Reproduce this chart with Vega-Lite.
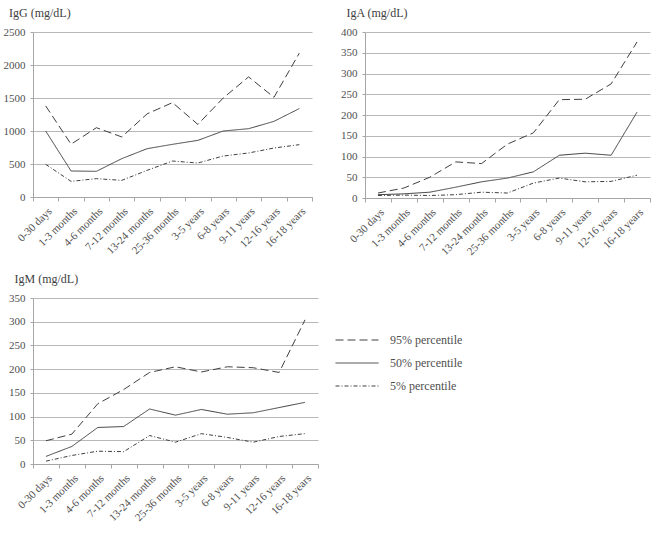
{
"$schema": "https://vega.github.io/schema/vega-lite/v6.json",
"background": "white",
"padding": {"left": 3, "top": 7, "right": 5, "bottom": 5},
"config": {
  "font": "Liberation Serif, Times New Roman, serif",
  "view": {"stroke": null},
  "axis": {"labelFont": "Liberation Serif, Times New Roman, serif", "labelFontSize": 11, "labelColor": "#505050", "domainColor": "#a6a6a6", "tickColor": "#a6a6a6", "gridColor": "#b8b8b8", "titleFontSize": 11},
  "title": {"font": "Liberation Serif, Times New Roman, serif", "fontSize": 12, "fontWeight": "normal", "color": "#404040", "anchor": "start", "dx": 6, "offset": 6},
  "line": {"strokeWidth": 1, "color": "#404040"},
  "legend": {"labelFont": "Liberation Serif, Times New Roman, serif", "labelFontSize": 12, "labelColor": "#505050"}
},
"datasets": {
  "d": [
    {"ig": "IgG", "pct": "95% percentile", "i": 0, "age": "0-30 days", "v": 1380},
    {"ig": "IgG", "pct": "95% percentile", "i": 1, "age": "1-3 months", "v": 800},
    {"ig": "IgG", "pct": "95% percentile", "i": 2, "age": "4-6 months", "v": 1050},
    {"ig": "IgG", "pct": "95% percentile", "i": 3, "age": "7-12 months", "v": 910},
    {"ig": "IgG", "pct": "95% percentile", "i": 4, "age": "13-24 months", "v": 1260},
    {"ig": "IgG", "pct": "95% percentile", "i": 5, "age": "25-36 months", "v": 1430},
    {"ig": "IgG", "pct": "95% percentile", "i": 6, "age": "3-5 years", "v": 1100},
    {"ig": "IgG", "pct": "95% percentile", "i": 7, "age": "6-8 years", "v": 1500},
    {"ig": "IgG", "pct": "95% percentile", "i": 8, "age": "9-11 years", "v": 1820},
    {"ig": "IgG", "pct": "95% percentile", "i": 9, "age": "12-16 years", "v": 1510},
    {"ig": "IgG", "pct": "95% percentile", "i": 10, "age": "16-18 years", "v": 2180},
    {"ig": "IgG", "pct": "50% percentile", "i": 0, "age": "0-30 days", "v": 1000},
    {"ig": "IgG", "pct": "50% percentile", "i": 1, "age": "1-3 months", "v": 394},
    {"ig": "IgG", "pct": "50% percentile", "i": 2, "age": "4-6 months", "v": 389},
    {"ig": "IgG", "pct": "50% percentile", "i": 3, "age": "7-12 months", "v": 581},
    {"ig": "IgG", "pct": "50% percentile", "i": 4, "age": "13-24 months", "v": 732},
    {"ig": "IgG", "pct": "50% percentile", "i": 5, "age": "25-36 months", "v": 798},
    {"ig": "IgG", "pct": "50% percentile", "i": 6, "age": "3-5 years", "v": 858},
    {"ig": "IgG", "pct": "50% percentile", "i": 7, "age": "6-8 years", "v": 1000},
    {"ig": "IgG", "pct": "50% percentile", "i": 8, "age": "9-11 years", "v": 1035},
    {"ig": "IgG", "pct": "50% percentile", "i": 9, "age": "12-16 years", "v": 1146},
    {"ig": "IgG", "pct": "50% percentile", "i": 10, "age": "16-18 years", "v": 1340},
    {"ig": "IgG", "pct": "5% percentile", "i": 0, "age": "0-30 days", "v": 495},
    {"ig": "IgG", "pct": "5% percentile", "i": 1, "age": "1-3 months", "v": 237},
    {"ig": "IgG", "pct": "5% percentile", "i": 2, "age": "4-6 months", "v": 278},
    {"ig": "IgG", "pct": "5% percentile", "i": 3, "age": "7-12 months", "v": 252},
    {"ig": "IgG", "pct": "5% percentile", "i": 4, "age": "13-24 months", "v": 404},
    {"ig": "IgG", "pct": "5% percentile", "i": 5, "age": "25-36 months", "v": 545},
    {"ig": "IgG", "pct": "5% percentile", "i": 6, "age": "3-5 years", "v": 515},
    {"ig": "IgG", "pct": "5% percentile", "i": 7, "age": "6-8 years", "v": 621},
    {"ig": "IgG", "pct": "5% percentile", "i": 8, "age": "9-11 years", "v": 667},
    {"ig": "IgG", "pct": "5% percentile", "i": 9, "age": "12-16 years", "v": 742},
    {"ig": "IgG", "pct": "5% percentile", "i": 10, "age": "16-18 years", "v": 793},
    {"ig": "IgA", "pct": "95% percentile", "i": 0, "age": "0-30 days", "v": 12},
    {"ig": "IgA", "pct": "95% percentile", "i": 1, "age": "1-3 months", "v": 24},
    {"ig": "IgA", "pct": "95% percentile", "i": 2, "age": "4-6 months", "v": 50},
    {"ig": "IgA", "pct": "95% percentile", "i": 3, "age": "7-12 months", "v": 87},
    {"ig": "IgA", "pct": "95% percentile", "i": 4, "age": "13-24 months", "v": 83},
    {"ig": "IgA", "pct": "95% percentile", "i": 5, "age": "25-36 months", "v": 130},
    {"ig": "IgA", "pct": "95% percentile", "i": 6, "age": "3-5 years", "v": 157},
    {"ig": "IgA", "pct": "95% percentile", "i": 7, "age": "6-8 years", "v": 237},
    {"ig": "IgA", "pct": "95% percentile", "i": 8, "age": "9-11 years", "v": 238},
    {"ig": "IgA", "pct": "95% percentile", "i": 9, "age": "12-16 years", "v": 275},
    {"ig": "IgA", "pct": "95% percentile", "i": 10, "age": "16-18 years", "v": 376},
    {"ig": "IgA", "pct": "50% percentile", "i": 0, "age": "0-30 days", "v": 8},
    {"ig": "IgA", "pct": "50% percentile", "i": 1, "age": "1-3 months", "v": 10},
    {"ig": "IgA", "pct": "50% percentile", "i": 2, "age": "4-6 months", "v": 14},
    {"ig": "IgA", "pct": "50% percentile", "i": 3, "age": "7-12 months", "v": 26},
    {"ig": "IgA", "pct": "50% percentile", "i": 4, "age": "13-24 months", "v": 39},
    {"ig": "IgA", "pct": "50% percentile", "i": 5, "age": "25-36 months", "v": 48},
    {"ig": "IgA", "pct": "50% percentile", "i": 6, "age": "3-5 years", "v": 63},
    {"ig": "IgA", "pct": "50% percentile", "i": 7, "age": "6-8 years", "v": 103},
    {"ig": "IgA", "pct": "50% percentile", "i": 8, "age": "9-11 years", "v": 108},
    {"ig": "IgA", "pct": "50% percentile", "i": 9, "age": "12-16 years", "v": 103},
    {"ig": "IgA", "pct": "50% percentile", "i": 10, "age": "16-18 years", "v": 207},
    {"ig": "IgA", "pct": "5% percentile", "i": 0, "age": "0-30 days", "v": 6},
    {"ig": "IgA", "pct": "5% percentile", "i": 1, "age": "1-3 months", "v": 7},
    {"ig": "IgA", "pct": "5% percentile", "i": 2, "age": "4-6 months", "v": 6},
    {"ig": "IgA", "pct": "5% percentile", "i": 3, "age": "7-12 months", "v": 8},
    {"ig": "IgA", "pct": "5% percentile", "i": 4, "age": "13-24 months", "v": 14},
    {"ig": "IgA", "pct": "5% percentile", "i": 5, "age": "25-36 months", "v": 12},
    {"ig": "IgA", "pct": "5% percentile", "i": 6, "age": "3-5 years", "v": 36},
    {"ig": "IgA", "pct": "5% percentile", "i": 7, "age": "6-8 years", "v": 48},
    {"ig": "IgA", "pct": "5% percentile", "i": 8, "age": "9-11 years", "v": 39},
    {"ig": "IgA", "pct": "5% percentile", "i": 9, "age": "12-16 years", "v": 40},
    {"ig": "IgA", "pct": "5% percentile", "i": 10, "age": "16-18 years", "v": 55},
    {"ig": "IgM", "pct": "95% percentile", "i": 0, "age": "0-30 days", "v": 49},
    {"ig": "IgM", "pct": "95% percentile", "i": 1, "age": "1-3 months", "v": 63},
    {"ig": "IgM", "pct": "95% percentile", "i": 2, "age": "4-6 months", "v": 127},
    {"ig": "IgM", "pct": "95% percentile", "i": 3, "age": "7-12 months", "v": 157},
    {"ig": "IgM", "pct": "95% percentile", "i": 4, "age": "13-24 months", "v": 193},
    {"ig": "IgM", "pct": "95% percentile", "i": 5, "age": "25-36 months", "v": 205},
    {"ig": "IgM", "pct": "95% percentile", "i": 6, "age": "3-5 years", "v": 194},
    {"ig": "IgM", "pct": "95% percentile", "i": 7, "age": "6-8 years", "v": 205},
    {"ig": "IgM", "pct": "95% percentile", "i": 8, "age": "9-11 years", "v": 203},
    {"ig": "IgM", "pct": "95% percentile", "i": 9, "age": "12-16 years", "v": 193},
    {"ig": "IgM", "pct": "95% percentile", "i": 10, "age": "16-18 years", "v": 304},
    {"ig": "IgM", "pct": "50% percentile", "i": 0, "age": "0-30 days", "v": 16},
    {"ig": "IgM", "pct": "50% percentile", "i": 1, "age": "1-3 months", "v": 37},
    {"ig": "IgM", "pct": "50% percentile", "i": 2, "age": "4-6 months", "v": 77},
    {"ig": "IgM", "pct": "50% percentile", "i": 3, "age": "7-12 months", "v": 79},
    {"ig": "IgM", "pct": "50% percentile", "i": 4, "age": "13-24 months", "v": 116},
    {"ig": "IgM", "pct": "50% percentile", "i": 5, "age": "25-36 months", "v": 103},
    {"ig": "IgM", "pct": "50% percentile", "i": 6, "age": "3-5 years", "v": 115},
    {"ig": "IgM", "pct": "50% percentile", "i": 7, "age": "6-8 years", "v": 105},
    {"ig": "IgM", "pct": "50% percentile", "i": 8, "age": "9-11 years", "v": 108},
    {"ig": "IgM", "pct": "50% percentile", "i": 9, "age": "12-16 years", "v": 119},
    {"ig": "IgM", "pct": "50% percentile", "i": 10, "age": "16-18 years", "v": 130},
    {"ig": "IgM", "pct": "5% percentile", "i": 0, "age": "0-30 days", "v": 6},
    {"ig": "IgM", "pct": "5% percentile", "i": 1, "age": "1-3 months", "v": 18},
    {"ig": "IgM", "pct": "5% percentile", "i": 2, "age": "4-6 months", "v": 27},
    {"ig": "IgM", "pct": "5% percentile", "i": 3, "age": "7-12 months", "v": 26},
    {"ig": "IgM", "pct": "5% percentile", "i": 4, "age": "13-24 months", "v": 60},
    {"ig": "IgM", "pct": "5% percentile", "i": 5, "age": "25-36 months", "v": 46},
    {"ig": "IgM", "pct": "5% percentile", "i": 6, "age": "3-5 years", "v": 64},
    {"ig": "IgM", "pct": "5% percentile", "i": 7, "age": "6-8 years", "v": 56},
    {"ig": "IgM", "pct": "5% percentile", "i": 8, "age": "9-11 years", "v": 46},
    {"ig": "IgM", "pct": "5% percentile", "i": 9, "age": "12-16 years", "v": 58},
    {"ig": "IgM", "pct": "5% percentile", "i": 10, "age": "16-18 years", "v": 64}
  ]
},
"spacing": 16,
"resolve": {"legend": {"strokeDash": "independent"}},
"vconcat": [
  {
    "spacing": 27,
    "hconcat": [
      {
        "width": 279, "height": 165,
        "title": {"text": "IgG (mg/dL)"},
        "data": {"name": "d"},
        "transform": [{"filter": "datum.ig === 'IgG'"}],
        "mark": {"type": "line"},
        "encoding": {
          "x": {"field": "age", "type": "ordinal", "bandPosition": 0.5, "sort": ["0-30 days","1-3 months","4-6 months","7-12 months","13-24 months","25-36 months","3-5 years","6-8 years","9-11 years","12-16 years","16-18 years"], "scale": {"type": "band", "paddingInner": 0, "paddingOuter": 0}, "axis": {"title": null, "labelAngle": -45, "tickBand": "extent", "tickSize": 4, "labelPadding": 4}},
          "y": {"field": "v", "type": "quantitative", "scale": {"domain": [0, 2500]}, "axis": {"title": null, "format": "d", "values": [0, 500, 1000, 1500, 2000, 2500], "tickSize": 3, "labelPadding": 5, "grid": true}},
          "order": {"field": "i", "type": "quantitative"},
          "strokeDash": {"field": "pct", "type": "nominal", "scale": {"domain": ["95% percentile", "50% percentile", "5% percentile"], "range": [[8, 4], [1, 0], [4, 2, 1, 2]]}, "legend": null}
        }
      },
      {
        "width": 285, "height": 166,
        "title": {"text": "IgA (mg/dL)"},
        "data": {"name": "d"},
        "transform": [{"filter": "datum.ig === 'IgA'"}],
        "mark": {"type": "line"},
        "encoding": {
          "x": {"field": "age", "type": "ordinal", "bandPosition": 0.5, "sort": ["0-30 days","1-3 months","4-6 months","7-12 months","13-24 months","25-36 months","3-5 years","6-8 years","9-11 years","12-16 years","16-18 years"], "scale": {"type": "band", "paddingInner": 0, "paddingOuter": 0}, "axis": {"title": null, "labelAngle": -45, "tickBand": "extent", "tickSize": 4, "labelPadding": 4}},
          "y": {"field": "v", "type": "quantitative", "scale": {"domain": [0, 400]}, "axis": {"title": null, "format": "d", "values": [0, 50, 100, 150, 200, 250, 300, 350, 400], "tickSize": 3, "labelPadding": 5, "grid": true}},
          "order": {"field": "i", "type": "quantitative"},
          "strokeDash": {"field": "pct", "type": "nominal", "scale": {"domain": ["95% percentile", "50% percentile", "5% percentile"], "range": [[8, 4], [1, 0], [4, 2, 1, 2]]}, "legend": null}
        }
      }
    ]
  },
  {
    "width": 285, "height": 166,
    "title": {"text": "IgM (mg/dL)"},
    "data": {"name": "d"},
    "transform": [{"filter": "datum.ig === 'IgM'"}],
    "mark": {"type": "line"},
    "encoding": {
      "x": {"field": "age", "type": "ordinal", "bandPosition": 0.5, "sort": ["0-30 days","1-3 months","4-6 months","7-12 months","13-24 months","25-36 months","3-5 years","6-8 years","9-11 years","12-16 years","16-18 years"], "scale": {"type": "band", "paddingInner": 0, "paddingOuter": 0}, "axis": {"title": null, "labelAngle": -45, "tickBand": "extent", "tickSize": 4, "labelPadding": 4}},
      "y": {"field": "v", "type": "quantitative", "scale": {"domain": [0, 350]}, "axis": {"title": null, "format": "d", "values": [0, 50, 100, 150, 200, 250, 300, 350], "tickSize": 3, "labelPadding": 5, "grid": true}},
      "order": {"field": "i", "type": "quantitative"},
      "strokeDash": {"field": "pct", "type": "nominal", "scale": {"domain": ["95% percentile", "50% percentile", "5% percentile"], "range": [[8, 4], [1, 0], [4, 2, 1, 2]]},
        "legend": {"title": null, "orient": "none", "legendX": 318, "legendY": 36, "symbolType": "M-4.3,0H4.3", "symbolSize": 100, "symbolStrokeColor": "#404040", "symbolStrokeWidth": 1, "labelOffset": 27, "rowPadding": 11}}
    }
  }
]
}
